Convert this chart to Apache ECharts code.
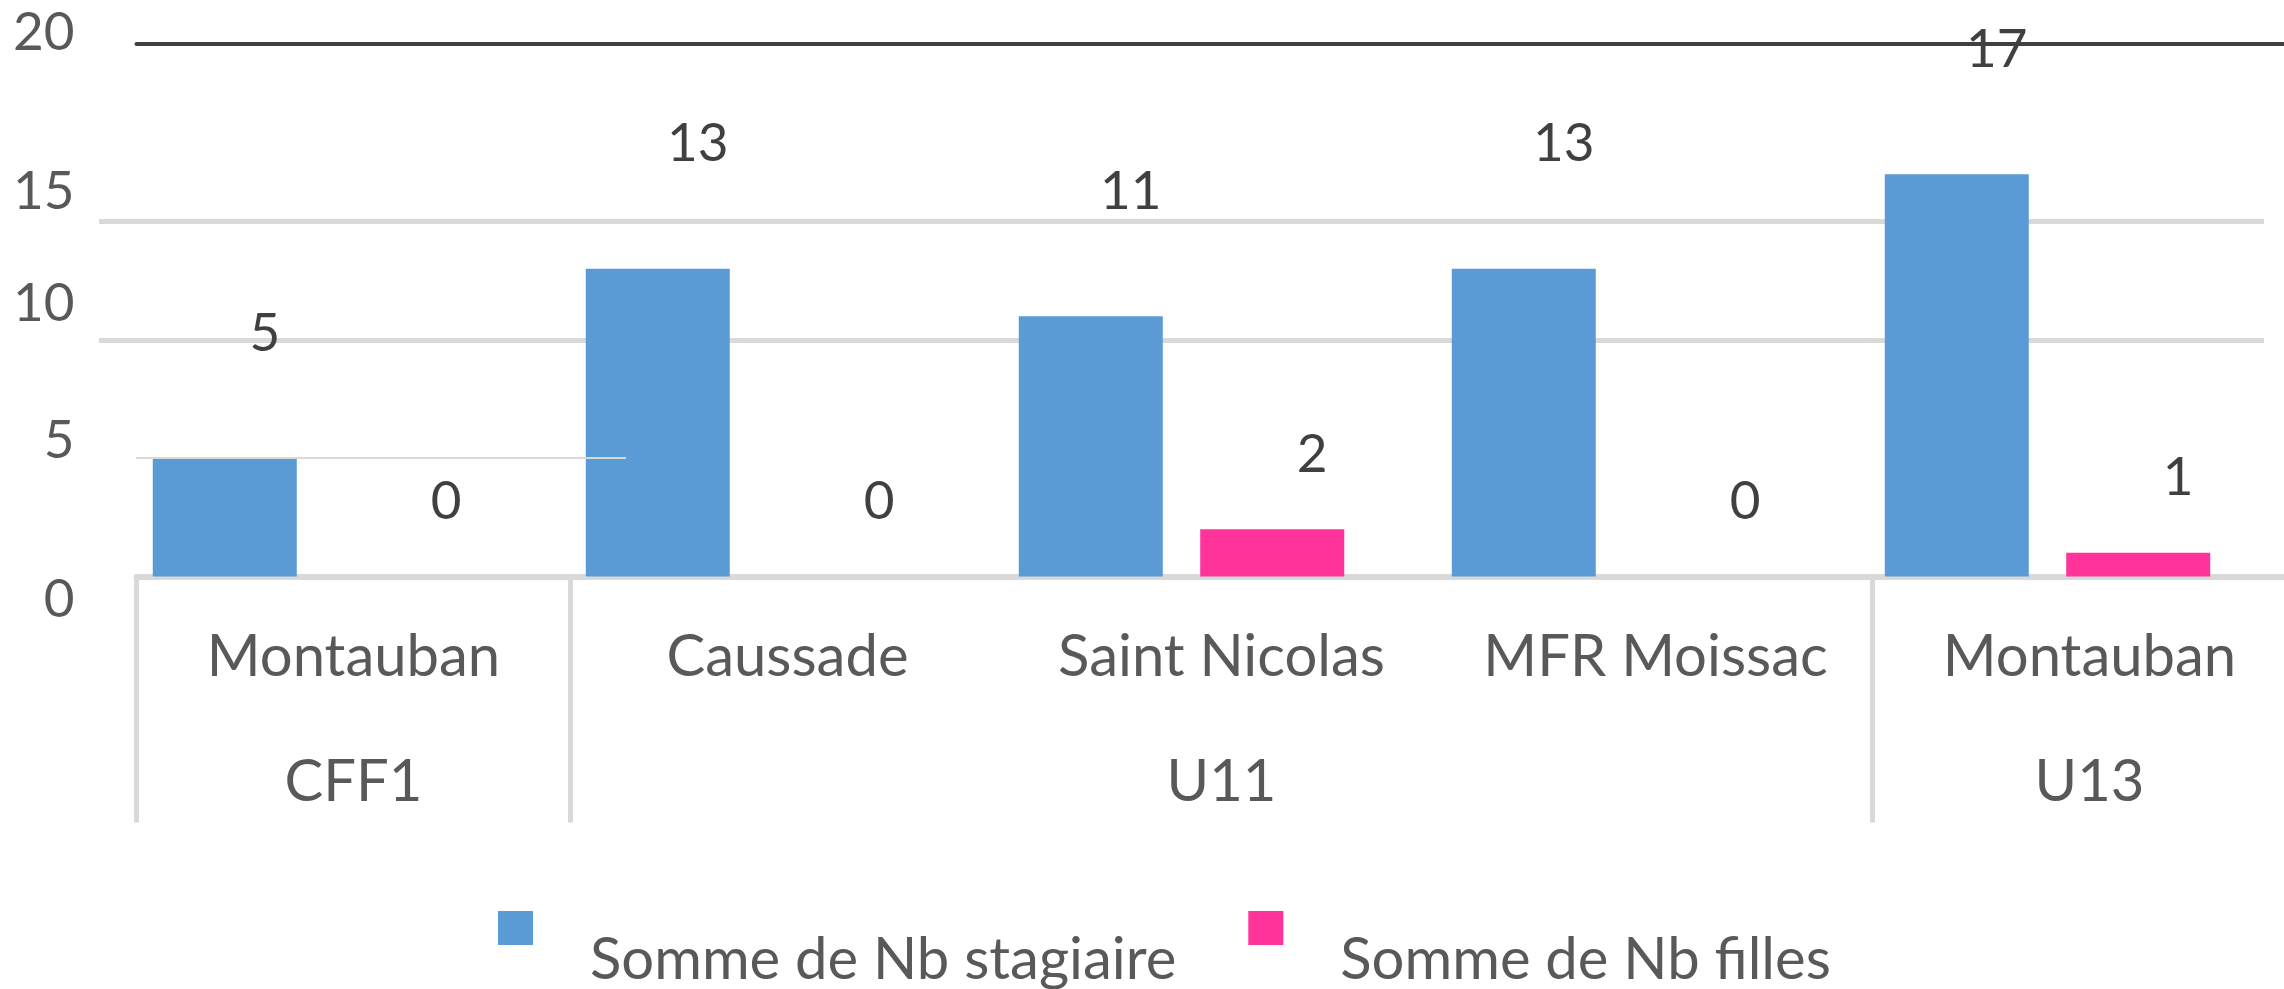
<!DOCTYPE html>
<html lang="fr">
<head>
<meta charset="utf-8" />
<title>Stagiaires par centre</title>
<style>
  html, body { margin: 0; padding: 0; background: #fff; }
  #main { width: 2284px; height: 989px; }
</style>
</head>
<body>
<div id="main"></div>
<script src="https://cdn.jsdelivr.net/npm/echarts@6/dist/echarts.min.js"></script>
<script>
  // données
  var sites = ['Montauban', 'Caussade', 'Saint Nicolas', 'MFR Moissac', 'Montauban'];
  var groupNames = ['CFF1', 'U11', 'U13'];
  var groupSizes = [1, 3, 1];
  var stagiaires = [5, 13, 11, 13, 17];
  var filles = [0, 0, 2, 0, 1];
  var yTicks = [0, 5, 10, 15, 20];
  var seriesNames = ['Somme de Nb stagiaire', 'Somme de Nb filles'];

  var yMax = 22.5;
  var font = 'Lato';
  var gray = '#d9d9d9';
  var none = 'rgba(0,0,0,0)';

  // début de chaque groupe + case du milieu pour le libellé
  var groupStart = [], groupMid = {};
  var k = 0;
  groupNames.forEach(function (g, i) {
    groupStart.push(k);
    groupMid[k + Math.floor(groupSizes[i] / 2)] = g;
    k += groupSizes[i];
  });

  // couleurs des lignes de grille, une par graduation (0..20 puis le max)
  function lineColors(visible) {
    return yTicks.concat([yMax]).map(function (v) {
      return visible.indexOf(v) >= 0 ? gray : none;
    });
  }

  var baseY = {
    type: 'value', min: 0, max: yMax, interval: 5,
    axisLine: { show: false }, axisTick: { show: false }
  };

  var myChart = echarts.init(document.getElementById('main'));
  var option = {
    animation: false,
    grid: [
      { left: 99, width: 2165, top: 44, bottom: 412.5, outerBoundsMode: 'none', containLabel: false },
      { left: 136.5, width: 2170, top: 44, bottom: 412.5, outerBoundsMode: 'none', containLabel: false },
      { left: 136, width: 490, top: 44, bottom: 412.5, outerBoundsMode: 'none', containLabel: false }
    ],
    legend: {
      left: 498, top: 911, padding: 0,
      itemWidth: 35, itemHeight: 34, itemGap: 72,
      icon: 'rect', selectedMode: false,
      data: seriesNames,
      formatter: function (name) { return '{t|' + name + '}'; },
      textStyle: {
        fontFamily: font, fontSize: 58, color: '#595959',
        rich: { t: { fontFamily: font, fontSize: 58, color: '#595959', padding: [64, 0, 0, 52] } }
      }
    },
    xAxis: [
      { gridIndex: 0, type: 'category', data: sites, show: false },
      {
        gridIndex: 1, type: 'category', data: sites, position: 'bottom',
        axisLine: { lineStyle: { color: gray, width: 6 } },
        axisTick: { show: false },
        axisLabel: { interval: 0, margin: 52, fontFamily: font, fontSize: 58, color: '#595959' }
      },
      {
        gridIndex: 1, type: 'category', data: sites, position: 'bottom', offset: 0,
        axisLine: { show: false },
        axisTick: {
          show: true, length: 246,
          interval: function (i) { return groupStart.indexOf(i) >= 0; },
          lineStyle: { color: gray, width: 5 }
        },
        axisLabel: {
          interval: function (i) { return groupMid[i] !== undefined; },
          formatter: function (v, i) { return groupMid[i] || ''; },
          margin: 177, fontFamily: font, fontSize: 58, color: '#595959'
        }
      },
      {
        gridIndex: 1, type: 'category', data: sites, position: 'top',
        axisLine: { lineStyle: { color: '#404040', width: 4 } },
        axisTick: { show: false }, axisLabel: { show: false }
      },
      { gridIndex: 2, type: 'category', data: sites, show: false }
    ],
    yAxis: [
      Object.assign({}, baseY, {
        gridIndex: 0, axisLabel: { show: false },
        splitLine: { lineStyle: { color: lineColors([10, 15]), width: 5 } }
      }),
      Object.assign({}, baseY, {
        gridIndex: 1, splitLine: { show: false },
        axisLabel: {
          margin: 62, fontFamily: font, fontSize: 53, color: '#595959',
          formatter: function (v) {
            return yTicks.indexOf(v) >= 0 ? '{s' + v + '|' + v + '}' : '';
          },
          rich: {
            s0: { padding: [47, 0, 0, 0] },
            s5: { padding: [0, 0, 34, 0] },
            s10: { padding: [0, 0, 71, 0] },
            s15: { padding: [0, 0, 60, 0] },
            s20: { padding: [0, 0, 140, 0] }
          }
        }
      }),
      Object.assign({}, baseY, {
        gridIndex: 2, z: 3, axisLabel: { show: false },
        splitLine: { lineStyle: { color: lineColors([5]), width: 2 } }
      })
    ],
    series: [
      {
        name: seriesNames[0], type: 'bar', xAxisIndex: 0, yAxisIndex: 0,
        data: stagiaires, barWidth: 144, barGap: '26%',
        itemStyle: { color: '#5b9bd5' },
        label: {
          show: true, position: 'top', distance: 98, offset: [40, 0],
          fontFamily: font, fontSize: 53, color: '#404040'
        }
      },
      {
        name: seriesNames[1], type: 'bar', xAxisIndex: 0, yAxisIndex: 0,
        data: filles, barWidth: 144, barGap: '26%',
        itemStyle: { color: '#ff3399' },
        label: {
          show: true, position: 'top', distance: 48, offset: [40, 0],
          fontFamily: font, fontSize: 53, color: '#404040'
        }
      }
    ]
  };
  myChart.setOption(option);
  window.onresize = myChart.resize;
</script>
</body>
</html>
